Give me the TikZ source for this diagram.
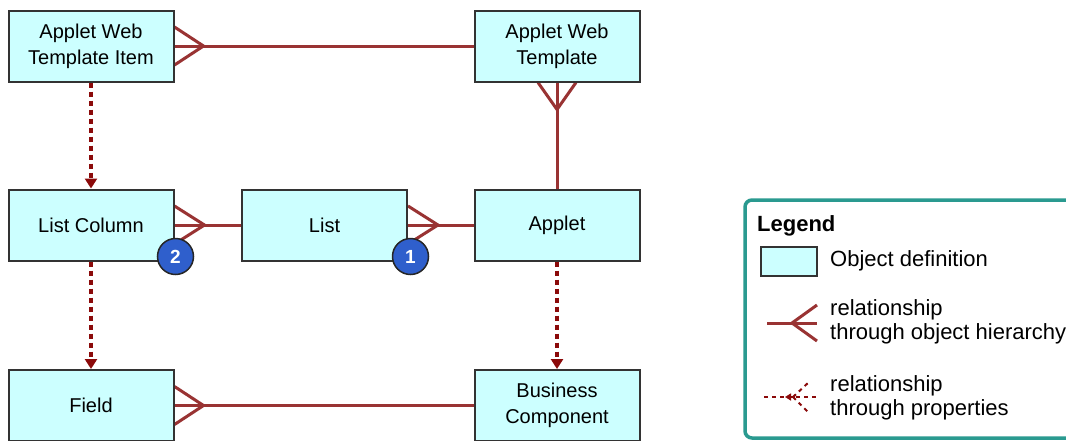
\documentclass[tikz,border=0pt]{standalone}
\usepackage{fontspec}
\setmainfont{Liberation Sans}
\usetikzlibrary{arrows.meta,calc}
\definecolor{boxfill}{HTML}{CCFFFF}
\definecolor{relc}{HTML}{993333}
\definecolor{propc}{HTML}{8B0A0A}
\definecolor{legendc}{HTML}{2A9A90}
\definecolor{badgefill}{HTML}{2F5FCC}
\pgfdeclarelayer{bg}
\pgfsetlayers{bg,main}
\begin{document}
\begin{tikzpicture}[x=1pt,y=-1pt,
  obj/.style={draw=black!80, line width=2pt, fill=boxfill, minimum width=165pt, minimum height=71pt, align=center, font=\fontsize{20}{26}\selectfont, inner sep=0pt},
  relline/.style={draw=relc, line width=3pt},
  propline/.style={draw=propc, line width=3.5pt, dash pattern=on 5pt off 4pt, -{Triangle[width=12pt,length=10pt]}},
  badgec/.style={circle, fill=badgefill, draw=black!85, line width=1.5pt, minimum size=36pt, inner sep=0pt, text=white, font=\bfseries\fontsize{19}{19}\selectfont},
  legtext/.style={anchor=west, align=left, font=\fontsize{22}{24}\selectfont, inner sep=0pt}]
\clip (0,0) rectangle (1066,440);
\begin{pgfonlayer}{bg}
\fill[white] (0,0) rectangle (1066,440);
\end{pgfonlayer}

% object definitions
\node[obj] (awti) at (91,46) {Applet Web\\Template Item};
\node[obj] (awt) at (557,46) {Applet Web\\Template};
\node[obj] (lc) at (91,225) {List Column};
\node[obj] (list) at (324.5,225) {List};
\node[obj] (applet) at (557,225) {Applet};
\node[obj] (field) at (91,405.5) {Field};
\node[obj] (bc) at (557,405.5) {Business\\Component};

\begin{pgfonlayer}{bg}
% hierarchy relationships
\draw[relline] (awti.east) -- (awt.west);
\draw[relline] ($(awti.east)+(0,-19)$) -- ($(awti.east)+(29,0)$) -- ($(awti.east)+(0,19)$);
\draw[relline] (awt.south) -- (applet.north);
\draw[relline] ($(awt.south)+(-19,0)$) -- ($(awt.south)+(0,27)$) -- ($(awt.south)+(19,0)$);
\draw[relline] (lc.east) -- (list.west);
\draw[relline] ($(lc.east)+(0,-19)$) -- ($(lc.east)+(30,0)$) -- ($(lc.east)+(0,19)$);
\draw[relline] (list.east) -- (applet.west);
\draw[relline] ($(list.east)+(0,-19)$) -- ($(list.east)+(30,0)$) -- ($(list.east)+(0,19)$);
\draw[relline] (field.east) -- (bc.west);
\draw[relline] ($(field.east)+(0,-19)$) -- ($(field.east)+(29,0)$) -- ($(field.east)+(0,19)$);

% property relationships
\draw[propline] (awti.south) -- (lc.north);
\draw[propline] (lc.south) -- (field.north);
\draw[propline] (applet.south) -- (bc.north);
\end{pgfonlayer}

% badges
\node[badgec] (b2) at ($(lc.south east)+(1,-5)$) {2};
\node[badgec] (b1) at ($(list.south east)+(2.5,-5)$) {1};

% legend
\draw[legendc, line width=3.5pt, rounded corners=7pt] (745,200) rectangle (1095,438);
\node[anchor=base west, inner sep=0pt, font=\bfseries\fontsize{22}{24}\selectfont] (lgt) at (757,231) {Legend};
\node[draw=black!80, line width=2pt, fill=boxfill, minimum width=56pt, minimum height=29pt, inner sep=0pt] (lbox) at (789,261.5) {};
\node[anchor=base west, inner sep=0pt, font=\fontsize{22}{24}\selectfont] (lt1) at (830,266) {Object definition};

\coordinate (lh1) at (767,323);
\coordinate (lh2) at (817,323);
\coordinate (lhc) at (792,323);
\coordinate (lhu) at (817,305);
\coordinate (lhd) at (817,341);
\draw[relline] (lh1) -- (lh2);
\draw[relline] (lhu) -- (lhc) -- (lhd);
\node[legtext] (lt2) at (830,322) {relationship\\through object hierarchy};

\coordinate (lp1) at (764,397);
\coordinate (lp2) at (816,397);
\coordinate (lpa) at (795,397);
\coordinate (lpt) at (785,397);
\coordinate (lpc) at (793,397);
\coordinate (lpu) at (809,382);
\coordinate (lpd) at (809,413);
\draw[draw=propc, line width=2pt, dash pattern=on 4pt off 4pt] (lp1) -- (lp2);
\draw[draw=propc, line width=2pt, -{Triangle[width=7pt,length=6pt]}] (lpa) -- (lpt);
\draw[draw=propc, line width=2pt, dash pattern=on 4pt off 4pt] (lpc) -- (lpu);
\draw[draw=propc, line width=2pt, dash pattern=on 4pt off 4pt] (lpc) -- (lpd);
\node[legtext] (lt3) at (830,398) {relationship\\through properties};
\end{tikzpicture}
\end{document}
